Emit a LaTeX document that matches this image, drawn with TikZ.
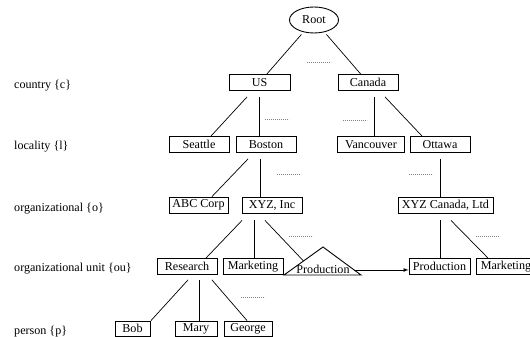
\documentclass[tikz,border=0pt]{standalone}
\usepackage{fontspec}
\setmainfont{Liberation Serif}
\usetikzlibrary{arrows,calc}
\usetikzlibrary{shapes.geometric}

\tikzset{
  entry/.style = {draw, line width = 0.9pt, minimum height = 16pt,
                  inner xsep = 1pt, inner ysep = 0pt,
                  font = \fontsize{12.1}{14}\selectfont},
  level/.style = {anchor = west, inner sep = 0pt,
                  font = \fontsize{12.1}{14}\selectfont},
  link/.style  = {line width = 0.7pt},
  more/.style  = {line width = 0.6pt, gray, dash pattern = on 0.9pt off 1.1pt}
}

\begin{document}
\begin{tikzpicture}[x = 1pt, y = -1pt]

\useasboundingbox (0,0) rectangle (530,337);

% level names
\node[level] (Lc) at (14,86) {country \{c\}};
\node[level] (Ll) at (14,147) {locality \{l\}};
\node[level] (Lo) at (14,209) {organizational \{o\}};
\node[level] (Lou) at (14,269) {organizational unit \{ou\}};
\node[level] (Lp) at (14,332) {person \{p\}};

\node[entry, ellipse, minimum width = 49pt, minimum height = 26pt] (Root) at (314,20) {Root};

\node[entry, minimum width = 61pt] (US) at (259.5,82.5) {US};
\node[entry, minimum width = 60pt] (Canada) at (368,82.5) {Canada};

\node[entry, minimum width = 60pt] (Seattle) at (199,144.5) {Seattle};
\node[entry, minimum width = 60pt] (Boston) at (266,144.5) {Boston};
\node[entry, minimum width = 67pt] (Vancouver) at (371,144.5) {Vancouver};
\node[entry, minimum width = 60pt] (Ottawa) at (440,144.5) {Ottawa};

\node[entry, minimum width = 59pt] (ABC) at (198.5,205) {ABC Corp};
\node[entry, minimum width = 60pt] (XYZ) at (272,205) {XYZ, Inc};
\node[entry, minimum width = 95pt] (XYZC) at (445.5,205) {XYZ Canada, Ltd};

\node[entry, minimum width = 60pt] (Research) at (187,266.5) {Research};
\node[entry, minimum width = 60pt] (Marketing) at (253,266.5) {Marketing};
\node[entry, minimum width = 61pt] (ProdB) at (439.5,266.5) {Production};
\node[entry, minimum width = 60pt] (MarketingB) at (506,266.5) {Marketing};

\node[entry, minimum width = 35pt, minimum height = 15pt] (Bob) at (132.5,328.5) {Bob};
\node[entry, minimum width = 42pt, minimum height = 15pt] (Mary) at (196,328.5) {Mary};
\node[entry, minimum width = 48pt, minimum height = 15pt] (George) at (248,328.5) {George};

% the Production triangle
\coordinate (TL) at (284,275);
\coordinate (TT) at (323,247);
\coordinate (TR) at (361,275);
\draw[line width = 0.9pt] (TL) -- (TT) -- (TR) -- cycle;
\node[level, anchor = center] (ProdA) at (323,269) {Production};
\coordinate (TA) at ($(TT)!0.82!(TR)$);

\draw[link, shorten <= 3pt] (Root) -- (US);
\draw[link, shorten <= 3pt] (Root) -- (Canada);

\draw[link] ([xshift = -12.5pt, yshift = -6pt]US.south) -- ([xshift = 12pt]Seattle.north);
\draw[link] ([yshift = -6pt]US.south) -- (US.south |- Boston.north);
\draw[link] ([xshift = 6pt, yshift = -6pt]Canada.south) -- ([xshift = 3pt]Vancouver.north);
\draw[link] ([xshift = 17pt, yshift = -6pt]Canada.south) -- ([xshift = -18pt]Ottawa.north);

\draw[link] ([xshift = -18pt, yshift = -6pt]Boston.south) -- ([xshift = 13.5pt]ABC.north);
\draw[link] ([xshift = -6pt, yshift = -6pt]Boston.south) -- ([xshift = -12pt]XYZ.north);
\draw[link] ([yshift = -6pt]Ottawa.south) -- (Ottawa.south |- XYZC.north);

\draw[link] ([xshift = -30pt, yshift = -7pt]XYZ.south) -- ([xshift = 19pt]Research.north);
\draw[link] ([xshift = -18pt, yshift = -7pt]XYZ.south) -- ([xshift = 1pt]Marketing.north);
\draw[link] ([xshift = -7pt, yshift = -7pt]XYZ.south) -- ($(TL)!0.5!(TT)$);
\draw[link] ([xshift = -5.5pt, yshift = -7pt]XYZC.south) -- ([xshift = 0.5pt]ProdB.north);
\draw[link] ([xshift = 5.5pt, yshift = -7pt]XYZC.south) -- ([xshift = -18pt]MarketingB.north);

\draw[link] ([xshift = 1pt, yshift = -5pt]Research.south) -- ([xshift = 18.5pt]Bob.north);
\draw[link] ([xshift = 12pt, yshift = -5pt]Research.south) -- ([xshift = 3pt]Mary.north);
\draw[link] ([xshift = 25pt, yshift = -5pt]Research.south) -- ([xshift = -1pt]George.north);

\draw[link, -latex] (TA) -- (TA -| ProdB.west);

% dotted marks for further siblings
\foreach \x/\y in {307/62, 265/119, 343/120, 277/174, 409/174, 289/236, 476/236, 241/297}
  \draw[more] (\x,\y) -- ++(24,0);

\end{tikzpicture}
\end{document}
